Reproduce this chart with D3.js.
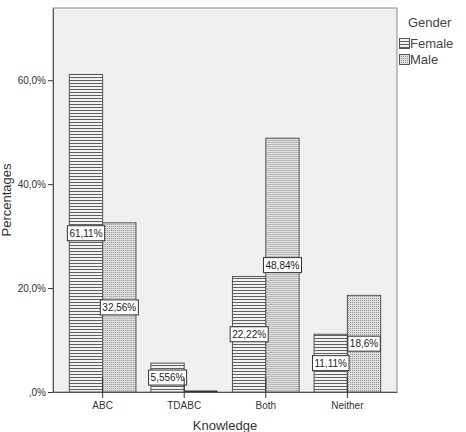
<!DOCTYPE html>
<html>
<head>
<meta charset="utf-8">
<script src="https://cdn.jsdelivr.net/npm/d3@7"></script>
<style>
  body { margin: 0; background: #fff; }
  text { font-family: "Liberation Sans", Arial, sans-serif; }
</style>
</head>
<body>
<div id="chart"></div>
<script>
// data
const knowledge = ["ABC", "TDABC", "Both", "Neither"];
const genders = ["Female", "Male"];
const femaleValues = [61.11, 5.556, 22.22, 11.11];
const maleValues = [32.56, 0, 48.84, 18.6];
const valueLabels = {
    Female: ["61,11%", "5,556%", "22,22%", "11,11%"],
    Male: ["32,56%", "", "48,84%", "18,6%"]
};
const yTicks = [0, 20, 40, 60];

const rows = knowledge.map((k, i) => ({
    key: k,
    Female: femaleValues[i],
    Male: maleValues[i]
}));

const width = 466, height = 432;
const margin = {top: 8, right: 69, bottom: 40, left: 53};

const svg = d3.select("#chart").append("svg")
    .attr("width", width)
    .attr("height", height);

const defs = svg.append("defs");

// horizontal stripes for Female
const pf = defs.append("pattern")
    .attr("id", "pat-female")
    .attr("patternUnits", "userSpaceOnUse")
    .attr("width", 4).attr("height", 3);
pf.append("rect").attr("width", 4).attr("height", 3).attr("fill", "#f2f2f2");
pf.append("rect").attr("y", 2).attr("width", 4).attr("height", 1).attr("fill", "#606060");

// fine dots for Male
const pm = defs.append("pattern")
    .attr("id", "pat-male")
    .attr("patternUnits", "userSpaceOnUse")
    .attr("width", 2).attr("height", 2);
pm.append("rect").attr("width", 2).attr("height", 2).attr("fill", "#e0e0e0");
pm.append("rect").attr("width", 1).attr("height", 1).attr("fill", "#909090");

const fills = {Female: "url(#pat-female)", Male: "url(#pat-male)"};

const x0 = d3.scaleBand()
    .domain(knowledge)
    .range([margin.left, width - margin.right])
    .paddingInner(0.183)
    .paddingOuter(0.2);

const x1 = d3.scaleBand()
    .domain(genders)
    .range([0, x0.bandwidth()]);

const y = d3.scaleLinear()
    .domain([0, 73.9])
    .range([height - margin.bottom, margin.top]);

// plot background
svg.append("rect")
    .attr("x", margin.left)
    .attr("y", margin.top)
    .attr("width", width - margin.right - margin.left)
    .attr("height", height - margin.bottom - margin.top)
    .attr("fill", "#f0f0f0")
    .attr("stroke", "#8a8a8a")
    .attr("stroke-width", 1);

// bars
const groups = svg.append("g").selectAll("g")
    .data(rows)
    .join("g")
    .attr("transform", d => `translate(${x0(d.key)},0)`);

groups.selectAll("rect")
    .data(d => genders.map(g => ({gender: g, value: d[g]})))
    .join("rect")
    .attr("x", d => x1(d.gender))
    .attr("y", d => y(d.value))
    .attr("width", x1.bandwidth())
    .attr("height", d => y(0) - y(d.value))
    .attr("fill", d => fills[d.gender])
    .attr("stroke", "#555")
    .attr("stroke-width", 1);

// zero-height bars show as a dark line on the baseline
groups.selectAll("line.zero")
    .data(d => genders.map(g => ({gender: g, value: d[g]})).filter(e => e.value === 0))
    .join("line")
    .attr("class", "zero")
    .attr("x1", d => x1(d.gender))
    .attr("x2", d => x1(d.gender) + x1.bandwidth())
    .attr("y1", y(0) - 0.5)
    .attr("y2", y(0) - 0.5)
    .attr("stroke", "#333")
    .attr("stroke-width", 2);

// value labels in boxes
rows.forEach((r, i) => {
    genders.forEach(g => {
        const txt = valueLabels[g][i];
        if (!txt) return;
        const cx = x0(r.key) + x1(g) + x1.bandwidth() / 2;
        const cy = (y(r[g]) + y(0)) / 2;
        const lg = svg.append("g").attr("transform", `translate(${cx},${cy})`);
        const t = lg.append("text")
            .attr("text-anchor", "middle")
            .attr("dy", "0.35em")
            .style("font-size", "10px")
            .attr("fill", "#222")
            .text(txt);
        const bb = t.node().getBBox();
        lg.insert("rect", "text")
            .attr("x", bb.x - 2)
            .attr("y", -7.5)
            .attr("width", bb.width + 4)
            .attr("height", 15)
            .attr("fill", "#fff")
            .attr("stroke", "#333")
            .attr("stroke-width", 1);
    });
});

// y axis
const yAxis = svg.append("g")
    .attr("transform", `translate(${margin.left},0)`)
    .call(d3.axisLeft(y).tickValues(yTicks).tickSize(6).tickSizeOuter(0)
        .tickFormat(d => d === 0 ? ",0%" : d3.format(".1f")(d).replace(".", ",") + "%"));
yAxis.select(".domain").attr("stroke", "#555");
yAxis.selectAll(".tick line").attr("stroke", "#333").attr("x1", -5).attr("x2", 0);
yAxis.selectAll(".tick text").attr("x", -7)
    .style("font-size", "10px").style("font-family", "'Liberation Sans', Arial, sans-serif").attr("fill", "#333");

// x axis
const xAxis = svg.append("g")
    .attr("transform", `translate(0,${height - margin.bottom})`)
    .call(d3.axisBottom(x0).tickSize(6).tickSizeOuter(0));
xAxis.select(".domain").attr("stroke", "#555");
xAxis.selectAll(".tick line").attr("stroke", "#333").attr("y1", -14).attr("y2", 6);
xAxis.selectAll(".tick text").attr("y", 10)
    .style("font-size", "10px").style("font-family", "'Liberation Sans', Arial, sans-serif").attr("fill", "#333");

// axis titles
svg.append("text")
    .attr("x", (margin.left + width - margin.right) / 2)
    .attr("y", 430)
    .attr("text-anchor", "middle")
    .style("font-size", "13px")
    .attr("fill", "#333")
    .text("Knowledge");

svg.append("text")
    .attr("transform", `translate(11,${(margin.top + height - margin.bottom) / 2}) rotate(-90)`)
    .attr("text-anchor", "middle")
    .style("font-size", "13px")
    .attr("fill", "#333")
    .text("Percentages");

// legend
const legend = svg.append("g").attr("transform", "translate(399,0)");
legend.append("text")
    .attr("x", 9).attr("y", 27)
    .style("font-size", "13px")
    .attr("fill", "#444")
    .text("Gender");
genders.forEach((g, i) => {
    const ly = 38 + i * 16;
    legend.append("rect")
        .attr("x", 0.5).attr("y", ly + 0.5)
        .attr("width", 10).attr("height", 10)
        .attr("fill", fills[g])
        .attr("stroke", "#555");
    legend.append("text")
        .attr("x", 11).attr("y", ly + 10)
        .style("font-size", "13px")
        .attr("fill", "#444")
        .text(g);
});
</script>
</body>
</html>
